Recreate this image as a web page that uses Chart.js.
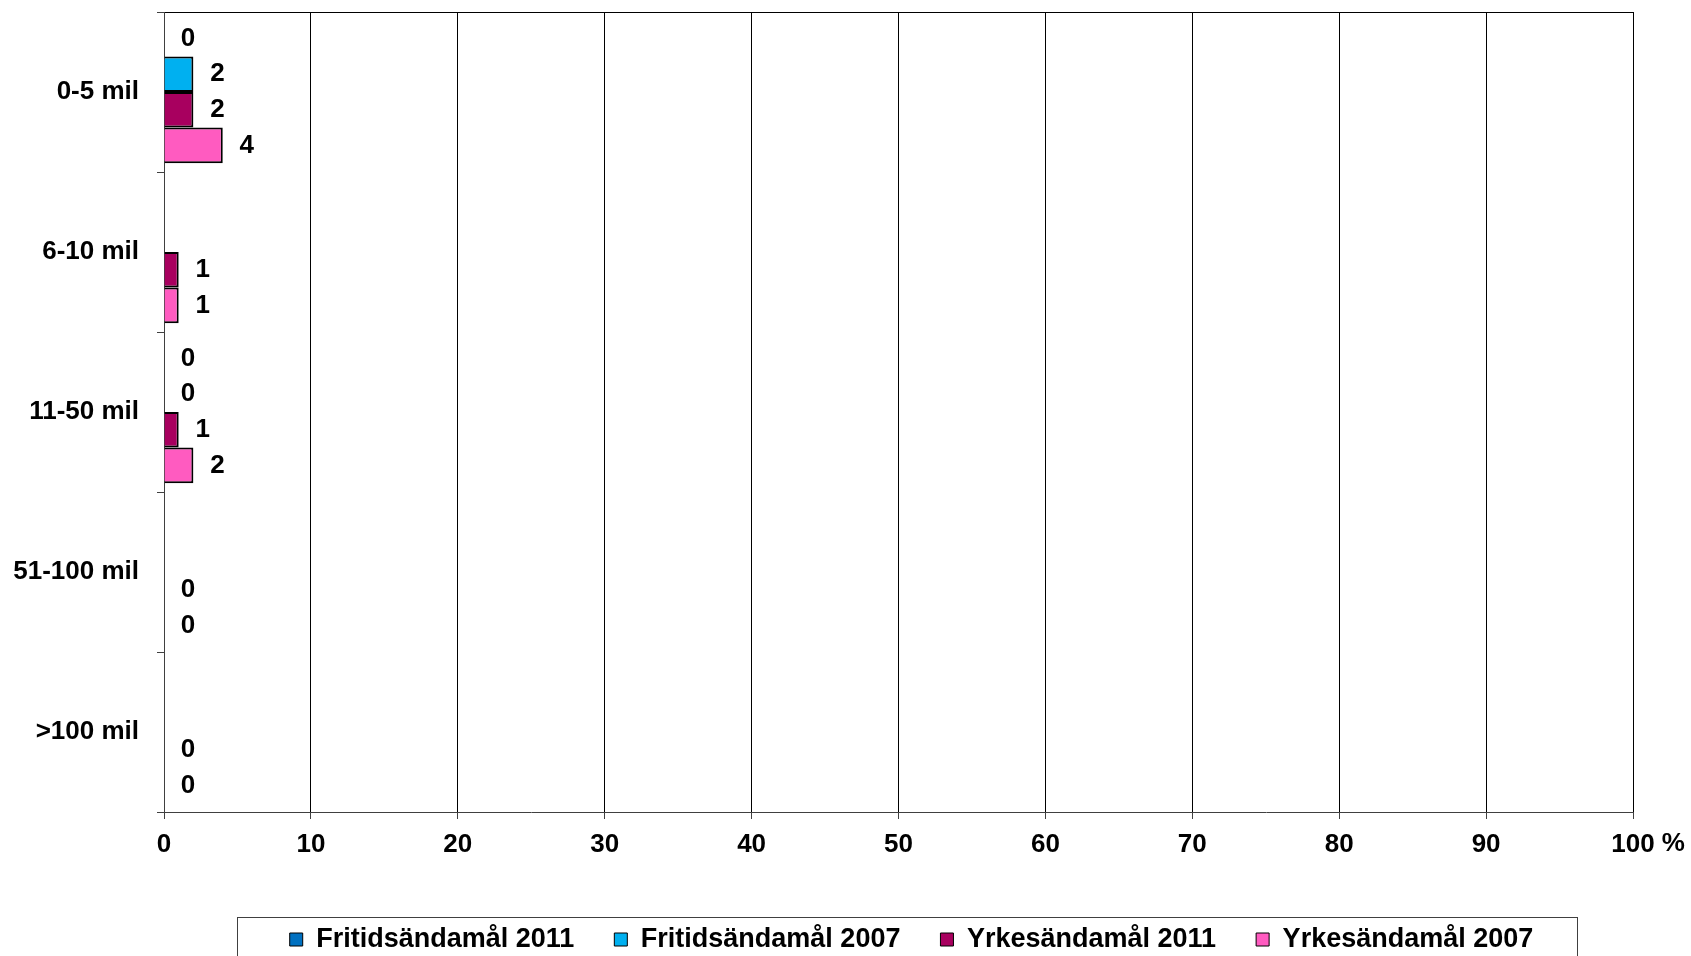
<!DOCTYPE html>
<html>
<head>
<meta charset="utf-8">
<script src="https://cdn.jsdelivr.net/npm/chart.js@4.4.1/dist/chart.umd.min.js"></script>
<style>
    html, body { margin: 0; padding: 0; background: #fff; }
    #grafica { display: block; }
</style>
</head>
<body>
<canvas id="grafica" width="1691" height="956"></canvas>
<script>
// avstånd (kategorier)
var kategorier = ["0-5 mil", "6-10 mil", "11-50 mil", "51-100 mil", ">100 mil"];

// serier, procent (null = ingen stapel/etikett)
var fritid2011 = [0, null, 0, null, null];
var fritid2007 = [2, null, 0, null, null];
var yrkes2011 = [2, 1, 1, 0, 0];
var yrkes2007 = [4, 1, 2, 0, 0];

var xTicks = [0, 10, 20, 30, 40, 50, 60, 70, 80, 90, 100];

var fontFamily = "'Liberation Sans', Arial, sans-serif";
var botPad = -7;
var tickPad = 10;

// etiketter till höger om staplarna
var etiketter = {
    id: "etiketter",
    afterDatasetsDraw: function (chart) {
        var ctx = chart.ctx;
        ctx.save();
        ctx.font = "bold 26px " + fontFamily;
        ctx.fillStyle = "#000";
        ctx.textAlign = "center";
        ctx.textBaseline = "middle";
        chart.data.datasets.forEach(function (ds, i) {
            var meta = chart.getDatasetMeta(i);
            meta.data.forEach(function (bar, j) {
                var v = ds.data[j];
                if (v === null || v === undefined) return;
                ctx.fillText(String(v), bar.x + 24, bar.y);
            });
        });
        // "%" efter sista skalsteget
        var xs = chart.scales.x;
        var px = xs.getPixelForValue(100);
        var w = ctx.measureText("100").width;
        ctx.textAlign = "left";
        ctx.fillText("%", px + w / 2 + 7, xs.top + 7 + tickPad + 15);
        ctx.restore();
    }
};

// flytta förklaringen åt höger och rita ram runt den
var legendRam = {
    id: "legendRam",
    afterLayout: function (chart) {
        var lg = chart.legend;
        if (!lg) return;
        lg.left += 95;
        lg.right += 95;
    },
    afterDraw: function (chart) {
        var lg = chart.legend;
        if (!lg || !lg.legendHitBoxes || !lg.legendHitBoxes.length) return;
        var boxes = lg.legendHitBoxes;
        var left = boxes[0].left;
        var last = boxes[boxes.length - 1];
        var right = last.left + last.width;
        var ctx = chart.ctx;
        ctx.save();
        ctx.strokeStyle = "#404040";
        ctx.lineWidth = 1;
        ctx.strokeRect(Math.round(left - 53) + 0.5, Math.round(boxes[0].top - 9) + 0.5,
            Math.round(right - left + 96), 80);
        ctx.restore();
    }
};

var ctx = document.getElementById("grafica").getContext("2d");
var chart = new Chart(ctx, {
    type: "bar",
    plugins: [etiketter, legendRam],
    data: {
        labels: kategorier,
        datasets: [
            {
                label: "Fritidsändamål 2011",
                data: fritid2011,
                backgroundColor: "#0070c0",
                borderColor: "#000",
                borderWidth: 2,
            },
            {
                label: "Fritidsändamål 2007",
                data: fritid2007,
                backgroundColor: "#00b0f0",
                borderColor: "#000",
                borderWidth: 2,
            },
            {
                label: "Yrkesändamål 2011",
                data: yrkes2011,
                backgroundColor: "#a8005f",
                borderColor: "#000",
                borderWidth: 2,
            },
            {
                label: "Yrkesändamål 2007",
                data: yrkes2007,
                backgroundColor: "#ff5bc0",
                borderColor: "#000",
                borderWidth: 2,
            },
        ],
    },
    options: {
        indexAxis: "y",
        responsive: false,
        animation: false,
        barPercentage: 1,
        categoryPercentage: 0.89,
        layout: {
            autoPadding: false,
            padding: { top: 12, right: 58, left: 0, bottom: botPad },
        },
        scales: {
            x: {
                min: 0,
                max: 100,
                afterBuildTicks: function (scale) {
                    scale.ticks = xTicks.map(function (v) { return { value: v }; });
                },
                afterFit: function (scale) {
                    var lg = scale.chart.legend;
                    var lh = lg ? lg.height : 0;
                    scale.height = scale.chart.height - botPad - lh - 812;
                    scale.paddingLeft = 0;
                    scale.paddingRight = 0;
                },
                ticks: {
                    color: "#000",
                    padding: tickPad,
                    maxRotation: 0,
                    font: { family: fontFamily, size: 26, weight: "bold" },
                },
                grid: {
                    color: "#000",
                    lineWidth: 1,
                    tickLength: 7,
                    tickColor: "#404040",
                },
                border: { color: "#404040", width: 1 },
            },
            y: {
                afterFit: function (scale) {
                    scale.width = 164;
                    scale.paddingTop = 0;
                    scale.paddingBottom = 0;
                },
                ticks: {
                    color: "#000",
                    padding: 18,
                    font: { family: fontFamily, size: 26, weight: "bold" },
                },
                grid: {
                    offset: true,
                    drawOnChartArea: true,
                    color: function (c) {
                        return c.index === 0 ? "#000" : "rgba(0,0,0,0)";
                    },
                    tickLength: 7,
                    tickColor: "#404040",
                },
                border: { color: "#404040", width: 1 },
            },
        },
        plugins: {
            legend: {
                position: "bottom",
                labels: {
                    color: "#000",
                    boxWidth: 13,
                    boxHeight: 13,
                    padding: 40,
                    font: { family: fontFamily, size: 27, weight: "bold" },
                    generateLabels: function (chart) {
                        return chart.data.datasets.map(function (ds, i) {
                            return {
                                text: ds.label,
                                fillStyle: ds.backgroundColor,
                                strokeStyle: "#000",
                                lineWidth: 1,
                                fontColor: "#000",
                                datasetIndex: i,
                                hidden: false,
                            };
                        });
                    },
                },
            },
            tooltip: { enabled: false },
        },
    },
});
</script>
</body>
</html>
